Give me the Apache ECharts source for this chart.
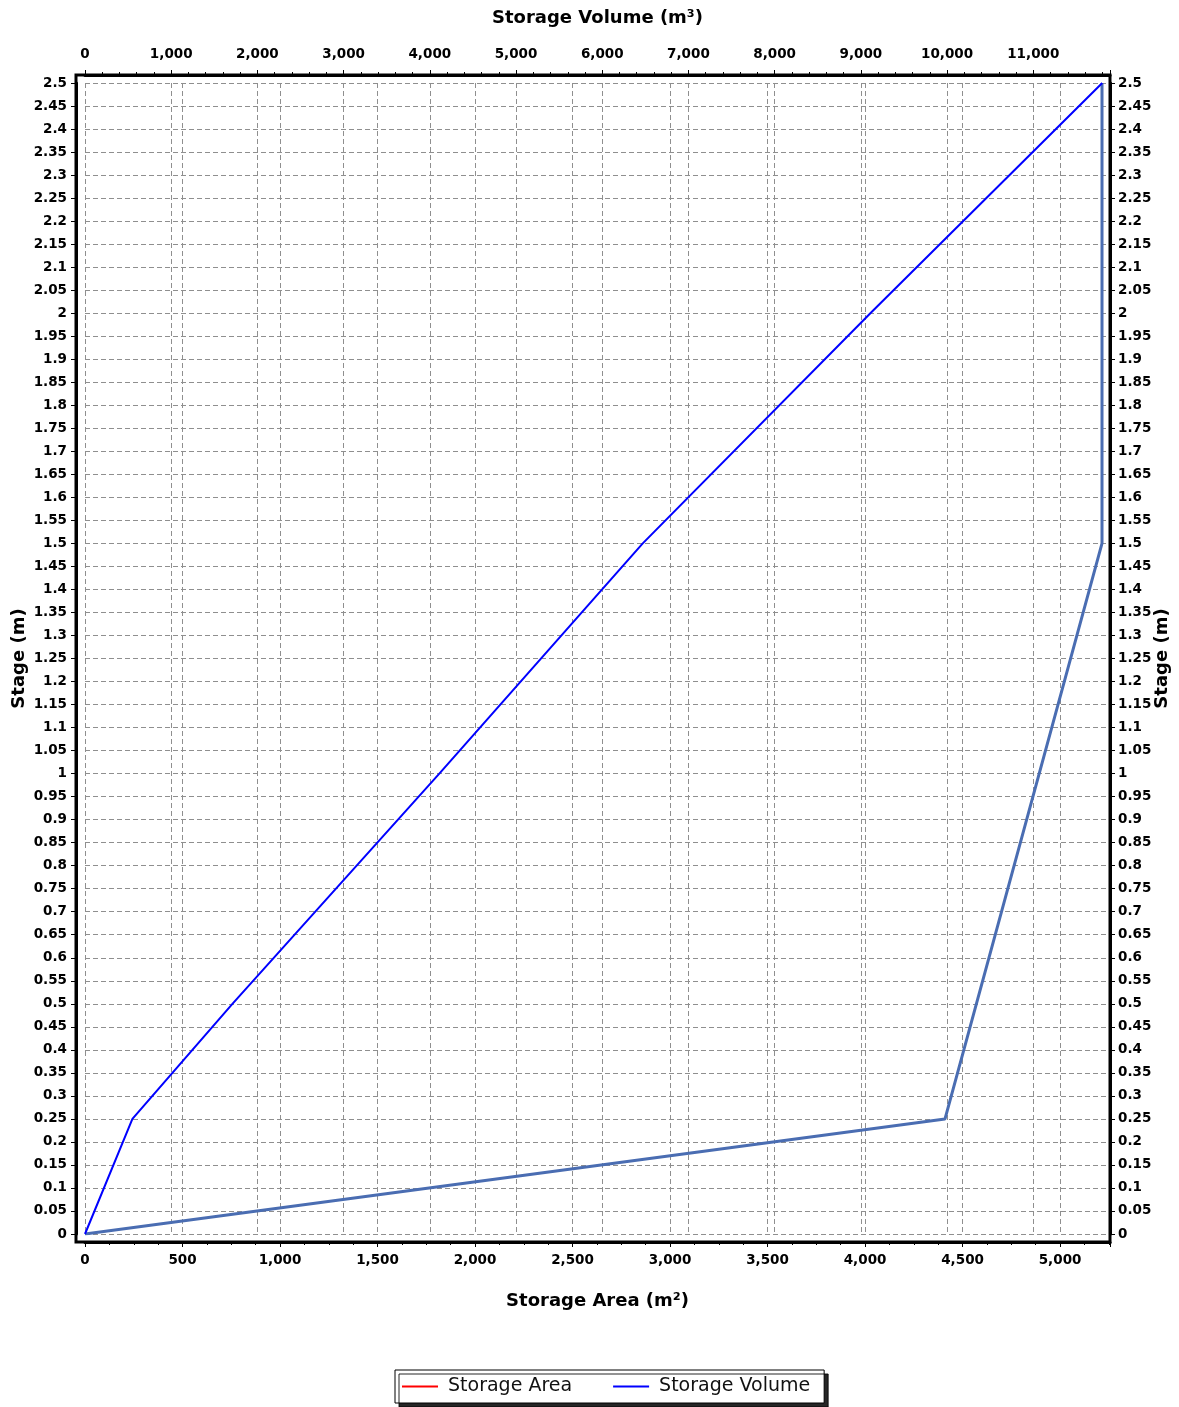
<!DOCTYPE html>
<html>
<head>
<meta charset="utf-8">
<script src="https://cdn.jsdelivr.net/npm/echarts@6/dist/echarts.min.js"></script>
<style>
html,body{margin:0;padding:0;background:#fff;}
#chart{width:1179px;height:1407px;}
</style>
</head>
<body>
<div id="chart"></div>
<script>
// Data
const areaValues  = [0, 4410, 5215, 5215];          // Storage Area (m²)
const areaStages  = [0, 0.25, 1.5, 2.5];             // Stage (m)
const volumeValues = [0, 550, 1710, 4110, 6470, 9110, 11800]; // Storage Volume (m³)
const volumeStages = [0, 0.25, 0.5, 1.0, 1.5, 2.0, 2.5];       // Stage (m)
const seriesNames = ['Storage Area', 'Storage Volume'];

const areaData = areaValues.map((v, i) => [v, areaStages[i]]);
const volumeData = volumeValues.map((v, i) => [v, volumeStages[i]]);

const fmtThousands = v => Number(v).toLocaleString('en-US');
const labelFont = {fontFamily: 'DejaVu Sans', fontWeight: 'bold', fontSize: 13.5, color: '#000'};
const nameFont = {fontFamily: 'DejaVu Sans', fontWeight: 'bold', fontSize: 18, color: '#000'};
const gridLine = {show: true, lineStyle: {color: '#8f8f8f', type: [5, 3], width: 1}};
const axLine = {show: true, onZero: false, lineStyle: {color: '#000', width: 3}};
const tick = {show: true, inside: false, length: 5, lineStyle: {color: '#000', width: 1}};

const chart = echarts.init(document.getElementById('chart'), null, {renderer: 'canvas'});
chart.setOption({
  animation: false,
  backgroundColor: '#fff',
  grid: {left: 85, top: 83, right: 69, bottom: 173, containLabel: false, outerBoundsMode: 'none'},
  xAxis: [
    {
      type: 'value', position: 'bottom', offset: 8,
      min: 0, max: 5256, interval: 500,
      name: 'Storage Area (m²)', nameLocation: 'middle', nameGap: 50, nameTextStyle: nameFont,
      axisLine: axLine, axisTick: tick,
      minorTick: {show: true, splitNumber: 4, length: 3, lineStyle: {color: '#000'}},
      axisLabel: Object.assign({margin: 11, showMaxLabel: false, formatter: fmtThousands}, labelFont),
      splitLine: gridLine
    },
    {
      type: 'value', position: 'top', offset: 8,
      min: 0, max: 11890, interval: 1000,
      name: 'Storage Volume (m³)', nameLocation: 'middle', nameGap: 48, nameTextStyle: nameFont,
      axisLine: axLine, axisTick: tick,
      minorTick: {show: true, splitNumber: 5, length: 3, lineStyle: {color: '#000'}},
      axisLabel: Object.assign({margin: 14, showMaxLabel: false, formatter: fmtThousands}, labelFont),
      splitLine: gridLine
    }
  ],
  yAxis: [
    {
      type: 'value', position: 'left', offset: 9,
      min: 0, max: 2.5, interval: 0.05,
      name: 'Stage (m)', nameLocation: 'middle', nameGap: 48, nameMoveOverlap: false, nameTextStyle: nameFont,
      axisLine: axLine, axisTick: tick,
      minorTick: {show: false},
      axisLabel: Object.assign({margin: 9, formatter: v => String(+v.toFixed(2))}, labelFont),
      splitLine: gridLine
    },
    {
      type: 'value', position: 'right', offset: 0,
      min: 0, max: 2.5, interval: 0.05,
      name: 'Stage (m)', nameLocation: 'middle', nameGap: 43, nameMoveOverlap: false, nameTextStyle: nameFont,
      axisLine: axLine, axisTick: tick,
      minorTick: {show: false},
      axisLabel: Object.assign({margin: 8, formatter: v => String(+v.toFixed(2))}, labelFont),
      splitLine: {show: false}
    }
  ],
  legend: {
    left: 395, top: 1370,
    padding: [7, 14, 7, 7],
    itemGap: 41, itemWidth: 36, itemHeight: 14,
    borderColor: '#000', borderWidth: 1,
    backgroundColor: '#fff',
    shadowColor: 'rgba(0,0,0,0.85)', shadowBlur: 0, shadowOffsetX: 4, shadowOffsetY: 4,
    textStyle: {fontFamily: 'DejaVu Sans', fontSize: 19, color: '#111', padding: [0, 0, 0, 5]},
    data: [
      {name: seriesNames[0], icon: 'path://M0,0 L36,0 L36,2 L0,2 Z', itemStyle: {color: '#ff0000'}},
      {name: seriesNames[1], icon: 'path://M0,0 L36,0 L36,2 L0,2 Z', itemStyle: {color: '#0000ff'}}
    ]
  },
  graphic: [{
    type: 'rect', z: 100, silent: true,
    shape: {x: 76, y: 75, width: 1034, height: 1167},
    style: {fill: 'none', stroke: '#000', lineWidth: 3}
  }],
  series: [
    {
      name: seriesNames[0], type: 'line', xAxisIndex: 0, yAxisIndex: 0,
      data: areaData, symbol: 'none',
      itemStyle: {color: '#ff0000'},
      lineStyle: {color: '#4a6db2', width: 3}
    },
    {
      name: seriesNames[1], type: 'line', xAxisIndex: 1, yAxisIndex: 0,
      data: volumeData, symbol: 'none',
      itemStyle: {color: '#0000ff'},
      lineStyle: {color: '#0000ff', width: 2}
    }
  ]
});
</script>
</body>
</html>
